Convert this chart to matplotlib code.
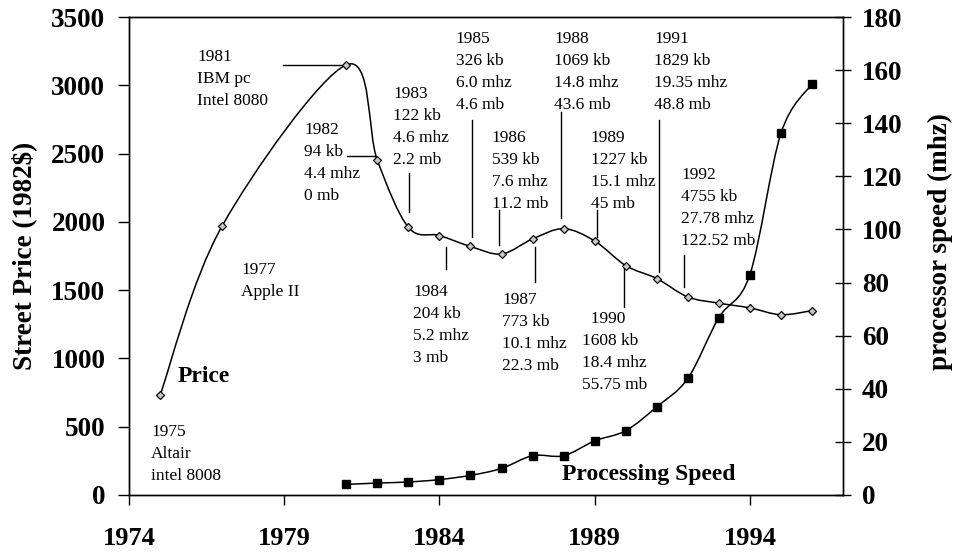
import matplotlib
matplotlib.use('Agg')
import matplotlib.pyplot as plt
from matplotlib.path import Path
from matplotlib.patches import PathPatch
import numpy as np

plt.rcParams['font.family'] = ['Liberation Serif', 'DejaVu Serif']

# ---------------- data ----------------
price_years = [1975, 1977, 1981, 1982, 1983, 1984, 1985, 1986, 1987, 1988,
               1989, 1990, 1991, 1992, 1993, 1994, 1995, 1996]
price_values = [730, 1970, 3150, 2450, 1960, 1900, 1820, 1765, 1875, 1950,
                1860, 1680, 1585, 1450, 1405, 1370, 1320, 1350]

speed_years = [1981, 1982, 1983, 1984, 1985, 1986, 1987, 1988,
               1989, 1990, 1991, 1992, 1993, 1994, 1995, 1996]
speed_values = [4.0, 4.5, 4.9, 5.8, 7.4, 10.0, 14.8, 14.8,
                20.4, 24.2, 33.2, 43.9, 66.8, 83.0, 136.2, 154.8]

x_ticks = [1974, 1979, 1984, 1989, 1994]
price_ticks = [0, 500, 1000, 1500, 2000, 2500, 3000, 3500]
speed_ticks = [0, 20, 40, 60, 80, 100, 120, 140, 160, 180]

# annotation text blocks: (text, x, y_top)  (price-axis coordinates)
notes = [
    ("1975\nAltair\nintel 8008", 1974.71, 520),
    ("1977\nApple II", 1977.61, 1706),
    ("1981\nIBM pc\nIntel 8080", 1976.19, 3266),
    ("1982\n94 kb\n4.4 mhz\n0 mb", 1979.64, 2731),
    ("1983\n122 kb\n4.6 mhz\n2.2 mb", 1982.51, 2995),
    ("1984\n204 kb\n5.2 mhz\n3 mb", 1983.15, 1545),
    ("1985\n326 kb\n6.0 mhz\n4.6 mb", 1984.53, 3397),
    ("1986\n539 kb\n7.6 mhz\n11.2 mb", 1985.69, 2673),
    ("1987\n773 kb\n10.1 mhz\n22.3 mb", 1986.02, 1486),
    ("1988\n1069 kb\n14.8 mhz\n43.6 mb", 1987.69, 3397),
    ("1989\n1227 kb\n15.1 mhz\n45 mb", 1988.88, 2673),
    ("  1990\n1608 kb\n18.4 mhz\n55.75 mb", 1988.59, 1347),
    ("1991\n1829 kb\n19.35 mhz\n48.8 mb", 1990.91, 3397),
    ("1992\n4755 kb\n27.78 mhz\n122.52 mb", 1991.78, 2402),
]

# leader lines: (x0, x1, y0, y1)
leaders = [
    (1978.96, 1980.89, 3151, 3151),
    (1981.02, 1981.93, 2482, 2482),
    (1983.02, 1983.02, 2358, 2072),
    (1984.20, 1984.20, 1819, 1658),
    (1985.05, 1985.05, 2746, 1889),
    (1985.92, 1985.92, 2087, 1830),
    (1987.08, 1987.08, 1816, 1560),
    (1987.92, 1987.92, 2804, 2028),
    (1989.08, 1989.08, 2087, 1889),
    (1989.95, 1989.95, 1684, 1377),
    (1991.08, 1991.08, 2746, 1633),
    (1991.89, 1991.89, 1757, 1523),
]


def smooth_path(xs, ys, k=1.0 / 6.0):
    pts = np.column_stack([xs, ys]).astype(float)
    n = len(pts)
    verts = [pts[0]]
    codes = [Path.MOVETO]
    for i in range(n - 1):
        p0 = pts[max(i - 1, 0)]
        p1 = pts[i]
        p2 = pts[i + 1]
        p3 = pts[min(i + 2, n - 1)]
        c1 = p1 + (p2 - p0) * k
        c2 = p2 - (p3 - p1) * k
        verts += [c1, c2, p2]
        codes += [Path.CURVE4] * 3
    return Path(verts, codes)


fig = plt.figure(figsize=(9.57, 5.54), dpi=100)
fig.subplots_adjust(left=0.1348, right=0.8809, bottom=0.1065, top=0.9693)
ax = fig.add_subplot(111)
ax2 = ax.twinx()

ax.set_xlim(1974, 1997)
ax.set_ylim(0, 3500)
ax2.set_ylim(0, 180)

# price series
ax.add_patch(PathPatch(smooth_path(price_years, price_values), fill=False,
                       lw=1.1, edgecolor='black', zorder=3))
ax.plot(price_years, price_values, linestyle='none', marker='D', markersize=4.0,
        mfc='#c8c8c8', mec='black', mew=0.9, zorder=4)

# speed series
ax2.add_patch(PathPatch(smooth_path(speed_years, speed_values), fill=False,
                        lw=1.1, edgecolor='black', zorder=3))
ax2.plot(speed_years, speed_values, linestyle='none', marker='s', markersize=5.2,
         mfc='black', mec='black', zorder=4)

# annotations
for txt, x, y in notes:
    ax.text(x, y, txt, ha='left', va='top', fontsize=12.5, linespacing=1.5,
            color='black')
for x0, x1, y0, y1 in leaders:
    ax.plot([x0, x1], [y0, y1], color='black', lw=1.0)

ax.text(1975.58, 830, "Price", fontsize=17, fontweight='bold',
        ha='left', va='baseline')
ax.text(1987.95, 110, "Processing Speed", fontsize=17, fontweight='bold',
        ha='left', va='baseline')

# axes styling
ax.set_xticks(x_ticks)
ax.set_xticklabels([str(t) for t in x_ticks])
ax.set_yticks(price_ticks)
ax.set_yticklabels([str(t) for t in price_ticks])
ax2.set_yticks(speed_ticks)
ax2.set_yticklabels([str(t) for t in speed_ticks])

ax.tick_params(axis='x', direction='out', length=7.2, width=1, pad=16,
               labelsize=19)
ax.tick_params(axis='y', direction='out', length=8, width=1, pad=9,
               labelsize=19.5)
ax2.tick_params(axis='y', direction='inout', length=11.5, width=1, pad=8,
                labelsize=19.5)
for lab in ax.get_xticklabels() + ax.get_yticklabels() + ax2.get_yticklabels():
    lab.set_fontweight('bold')

for a in (ax, ax2):
    for s in a.spines.values():
        s.set_linewidth(1.0)
        s.set_color('black')

ax.set_ylabel("Street Price (1982$)", fontsize=19.5, fontweight='bold')
ax.yaxis.label.set_verticalalignment('center')
ax.yaxis.set_label_coords(-0.147, 0.50)
ax2.set_ylabel("processor speed (mhz)", fontsize=19.5, fontweight='bold',
               rotation=90)
ax2.yaxis.label.set_verticalalignment('center')
ax2.yaxis.set_label_coords(1.136, 0.53)

fig.savefig('out.png', dpi=100, facecolor='white')
